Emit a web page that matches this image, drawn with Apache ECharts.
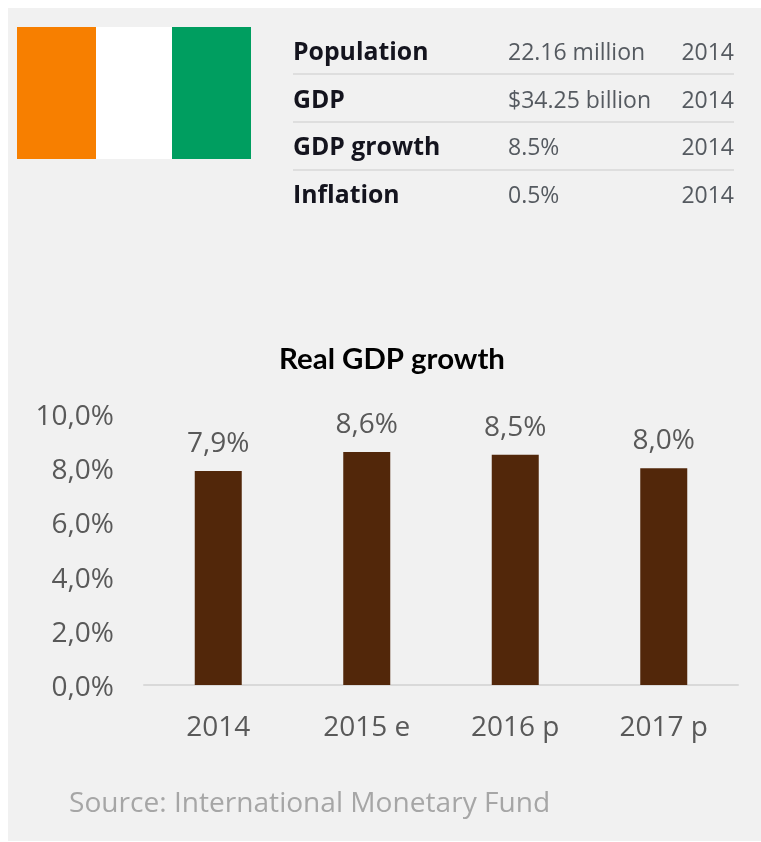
<!DOCTYPE html>
<html>
<head>
<meta charset="utf-8">
<style>
html,body{margin:0;padding:0;background:#fff;}
#chart{width:761px;height:842px;}
</style>
<script src="https://cdn.jsdelivr.net/npm/echarts@6/dist/echarts.min.js"></script>
</head>
<body>
<div id="chart"></div>
<script>
// Real GDP growth per year, in percent
const years = ['2014', '2015 e', '2016 p', '2017 p'];
const growth = [7.9, 8.6, 8.5, 8.0];
const yTicks = [0, 2, 4, 6, 8, 10];

// Country fact sheet
const factNames = ['Population', 'GDP', 'GDP growth', 'Inflation'];
const factValues = ['22.16 million', '$34.25 billion', '8.5%', '0.5%'];
const factYears = ['2014', '2014', '2014', '2014'];

const flagColours = ['#F77F00', '#FFFFFF', '#009E60'];
const pct = v => v.toFixed(1).replace('.', ',') + '%';

const chart = echarts.init(document.getElementById('chart'), null, {renderer: 'canvas'});

const rowY = [53, 101, 148, 196];
const ruleY = [74, 122, 170];
const flagX = [17, 96, 172, 251];
const tableFont = '"Open Sans"';

const graphics = [
  {type: 'rect', z: -1, shape: {x: 8, y: 8, width: 753, height: 833}, style: {fill: '#F1F1F1'}}
];
flagColours.forEach((c, i) => graphics.push({
  type: 'rect',
  shape: {x: flagX[i], y: 27, width: flagX[i + 1] - flagX[i], height: 132},
  style: {fill: c}
}));
ruleY.forEach(y => graphics.push({
  type: 'rect', shape: {x: 293, y: y - 1, width: 441, height: 2}, style: {fill: '#DEDEDE'}
}));
factNames.forEach((name, i) => {
  graphics.push({type: 'text', x: 293, y: rowY[i], style: {
    text: name, font: 'bold 24.8px ' + tableFont, fill: '#14141E', verticalAlign: 'middle'}});
  graphics.push({type: 'text', x: 508, y: rowY[i], style: {
    text: factValues[i], font: '23px ' + tableFont, fill: '#555A60', verticalAlign: 'middle'}});
  graphics.push({type: 'text', x: 734, y: rowY[i], style: {
    text: factYears[i], font: '23px ' + tableFont, fill: '#555A60', align: 'right', verticalAlign: 'middle'}});
});
graphics.push({type: 'text', x: 69, y: 804, style: {
  text: 'Source: International Monetary Fund', font: '28.1px "Open Sans"', fill: '#A6A6A6', verticalAlign: 'middle'}});

chart.setOption({
  animation: false,
  backgroundColor: '#FFFFFF',
  title: {
    text: 'Real GDP growth', left: 387, top: 340, textAlign: 'center',
    textStyle: {fontFamily: 'Lato', fontWeight: 'bold', fontSize: 29.4, color: '#000000'}
  },
  grid: {left: 144, right: 23, top: 414, height: 271},
  xAxis: {
    type: 'category', data: years,
    axisTick: {show: false},
    axisLine: {lineStyle: {color: '#D9D9D9', width: 2}},
    axisLabel: {fontFamily: 'Open Sans', fontSize: 28, color: '#595959', margin: 29}
  },
  yAxis: {
    type: 'value', min: 0, max: 10, interval: 2,
    splitLine: {show: false}, axisLine: {show: false}, axisTick: {show: false},
    axisLabel: {margin: 30,
      rich: {tick: {fontFamily: 'Open Sans', fontSize: 28, color: '#595959', lineHeight: 34, padding: [6, 0, 0, 0]}},
      formatter: v => yTicks.includes(v) ? '{tick|' + pct(v) + '}' : ''}
  },
  series: [{
    type: 'bar', data: growth, barWidth: 47,
    itemStyle: {color: '#52270A'},
    label: {show: true, position: 'top', distance: 13, fontFamily: 'Open Sans', fontSize: 28,
      color: '#595959', formatter: p => pct(p.value)}
  }],
  graphic: graphics
});
</script>
</body>
</html>
